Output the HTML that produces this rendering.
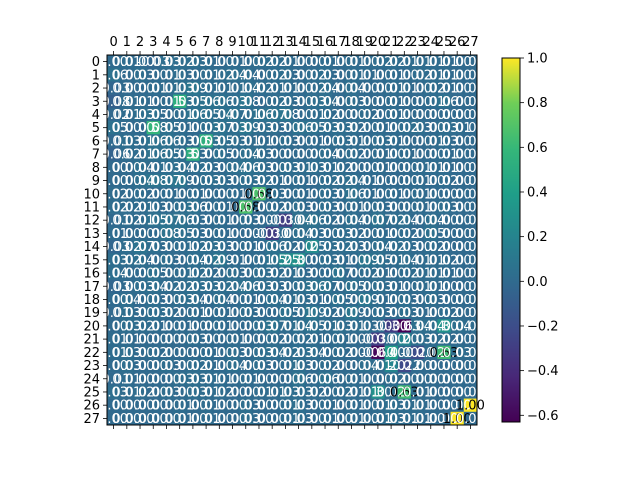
<!DOCTYPE html>
<html><head><meta charset="utf-8">
<style>
html,body{margin:0;padding:0;background:#fff;}
svg{display:block;font-family:"DejaVu Sans","Liberation Sans",sans-serif;}
</style></head>
<body>
<svg id="chart" width="640" height="480" viewBox="0 0 640 480" xmlns="http://www.w3.org/2000/svg">
<g id="cells"></g>
<g id="annots"></g>
<rect x="107" y="55" width="370" height="370" fill="none" stroke="#000" stroke-width="1"/>
<g id="xticks"></g>
<g id="yticks"></g>
<defs>
<linearGradient id="vir" x1="0" y1="1" x2="0" y2="0">
<stop offset="0" stop-color="#440154"/><stop offset="0.125" stop-color="#482878"/><stop offset="0.25" stop-color="#3e4a89"/><stop offset="0.375" stop-color="#31688e"/><stop offset="0.5" stop-color="#26828e"/><stop offset="0.625" stop-color="#1f9e89"/><stop offset="0.75" stop-color="#35b779"/><stop offset="0.875" stop-color="#6ece58"/><stop offset="1" stop-color="#fde725"/>
</linearGradient>
</defs>
<rect x="502" y="58" width="18" height="364" fill="url(#vir)" stroke="#000" stroke-width="1"/>
<g id="cbticks"></g>
</svg>
<script>
const labels = Array.from({length:28},(_,i)=>String(i));
const cbTicks = [1.0,0.8,0.6,0.4,0.2,0.0,-0.2,-0.4,-0.6];
const vmin = -0.63, vmax = 1.0;
const matrix = [
[0.00,0.01,0.00,-0.03,0.03,0.02,0.03,0.01,0.00,0.01,0.00,0.02,0.02,0.01,0.00,0.00,0.01,0.00,0.01,0.00,0.02,0.02,0.01,0.01,0.01,0.01,0.00,0.00],
[0.06,0.00,0.03,0.00,0.01,0.03,0.00,0.01,0.02,0.04,0.04,0.00,0.02,0.03,0.00,0.02,0.03,0.00,0.01,0.01,0.00,0.01,0.00,0.02,0.01,0.01,0.00,0.00],
[-0.03,0.00,0.00,0.01,0.01,0.03,0.09,0.01,0.01,0.01,0.04,0.02,0.01,0.01,0.00,0.02,0.04,0.00,0.04,0.00,0.00,0.01,0.01,0.00,0.02,0.01,0.00,0.00],
[-0.08,0.01,0.01,0.00,0.01,0.53,0.05,0.06,0.06,0.03,0.08,0.00,0.02,0.03,0.00,0.03,0.04,0.00,0.03,0.00,0.00,0.01,0.00,0.00,0.01,0.06,0.00,0.00],
[-0.02,0.01,0.03,0.05,0.00,0.01,0.06,0.05,0.04,0.07,0.01,0.06,0.07,0.08,0.00,0.01,0.02,0.00,0.00,0.02,0.00,0.01,0.00,0.00,0.00,0.00,0.00,0.00],
[0.05,0.00,0.00,0.58,0.05,0.01,0.00,0.03,0.07,0.03,0.09,0.03,0.03,0.00,0.06,0.05,0.03,0.03,0.02,0.00,0.01,0.00,0.02,0.03,0.00,0.03,0.01,0.00],
[-0.01,0.03,0.01,0.06,0.06,0.03,0.00,0.53,0.05,0.03,0.01,0.01,0.00,0.03,0.00,0.01,0.00,0.03,0.01,0.00,0.03,0.01,0.00,0.00,0.01,0.03,0.00,0.00],
[-0.06,0.02,0.01,0.06,0.05,0.03,0.53,0.00,0.05,0.00,0.04,0.03,0.00,0.00,0.00,0.00,0.04,0.00,0.02,0.00,0.01,0.00,0.01,0.00,0.00,0.01,0.00,0.00],
[0.00,0.00,0.04,0.01,0.03,0.04,0.02,0.03,0.00,0.04,0.06,0.03,0.00,0.03,0.01,0.03,0.01,0.02,0.00,0.00,0.01,0.00,0.00,0.01,0.01,0.01,0.00,0.00],
[0.00,0.00,0.04,0.08,0.07,0.09,0.00,0.03,0.03,0.00,0.03,0.02,0.01,0.00,0.01,0.00,0.02,0.02,0.04,0.01,0.00,0.00,0.00,0.01,0.00,0.02,0.00,0.00],
[0.02,0.00,0.02,0.00,0.01,0.00,0.01,0.00,0.00,0.01,0.00,0.68,0.03,0.00,0.01,0.00,0.03,0.01,0.06,0.01,0.00,0.01,0.00,0.01,0.00,0.00,0.00,0.00],
[0.02,0.02,0.01,0.03,0.00,0.03,0.06,0.00,0.01,0.00,0.68,0.00,0.02,0.00,0.03,0.00,0.03,0.00,0.01,0.00,0.03,0.00,0.00,0.01,0.00,0.03,0.00,0.00],
[-0.01,0.02,0.01,0.05,0.07,0.06,0.03,0.00,0.01,0.00,0.03,0.00,0.00,-0.30,0.04,0.06,0.02,0.00,0.04,0.00,0.07,0.02,0.04,0.00,0.04,0.00,0.00,0.00],
[0.01,0.00,0.00,0.00,0.08,0.05,0.03,0.00,0.01,0.00,0.00,0.00,-0.30,0.00,0.04,0.03,0.00,0.03,0.02,0.00,0.01,0.00,0.02,0.00,0.05,0.00,0.00,0.00],
[-0.03,0.02,0.07,0.03,0.00,0.01,0.02,0.03,0.03,0.00,0.01,0.00,0.06,0.02,0.00,0.25,0.03,0.02,0.03,0.00,0.04,0.02,0.03,0.00,0.02,0.00,0.00,0.00],
[0.03,0.02,0.04,0.00,0.03,0.00,0.04,0.02,0.09,0.01,0.00,0.01,0.05,0.25,0.30,0.00,0.03,0.01,0.00,0.09,0.05,0.01,0.04,0.01,0.01,0.02,0.00,0.00],
[0.04,0.00,0.00,0.05,0.00,0.01,0.02,0.02,0.00,0.03,0.00,0.03,0.02,0.01,0.03,0.00,0.00,0.07,0.00,0.02,0.01,0.00,0.02,0.01,0.01,0.01,0.00,0.00],
[-0.03,0.00,0.03,0.04,0.02,0.02,0.03,0.03,0.02,0.04,0.06,0.03,0.03,0.00,0.03,0.06,0.07,0.00,0.05,0.00,0.03,0.01,0.00,0.01,0.01,0.00,0.00,0.00],
[0.00,0.04,0.00,0.03,0.00,0.03,0.04,0.00,0.04,0.00,0.01,0.00,0.04,0.01,0.03,0.01,0.00,0.05,0.00,0.09,0.01,0.00,0.03,0.00,0.03,0.00,0.00,0.00],
[-0.01,0.03,0.00,0.03,0.02,0.00,0.01,0.00,0.01,0.00,0.03,0.00,0.00,0.05,0.01,0.09,0.02,0.00,0.09,0.00,0.03,0.00,0.03,0.01,0.00,0.02,0.00,0.00],
[0.00,0.03,0.02,0.01,0.00,0.01,0.00,0.00,0.01,0.00,0.00,0.03,0.07,0.01,0.04,0.05,0.01,0.03,0.01,0.03,0.00,-0.30,-0.63,0.04,0.04,0.30,0.04,0.01],
[0.01,0.01,0.00,0.00,0.00,0.00,0.03,0.00,0.00,0.01,0.00,0.00,0.02,0.00,0.02,0.01,0.00,0.01,0.00,0.00,-0.30,0.00,0.20,0.03,0.02,0.02,0.00,0.00],
[0.01,0.03,0.00,0.02,0.00,0.00,0.00,0.01,0.00,0.03,0.00,0.03,0.04,0.02,0.03,0.04,0.00,0.02,0.00,0.00,-0.60,0.40,0.00,-0.20,0.02,0.63,0.03,0.01],
[0.00,0.03,0.00,0.00,0.03,0.00,0.02,0.01,0.00,0.04,0.00,0.03,0.00,0.01,0.03,0.00,0.02,0.00,0.00,0.04,0.01,0.20,-0.22,0.00,0.00,0.00,0.00,0.00],
[-0.01,0.01,0.00,0.00,0.00,0.03,0.03,0.01,0.01,0.00,0.01,0.00,0.00,0.00,0.06,0.00,0.06,0.00,0.01,0.00,0.00,0.02,0.00,0.00,0.00,0.00,0.00,0.00],
[0.03,0.01,0.02,0.00,0.03,0.00,0.03,0.01,0.02,0.00,0.00,0.01,0.01,0.03,0.03,0.02,0.00,0.02,0.01,0.01,0.30,0.02,0.63,0.01,0.00,0.00,0.00,0.00],
[0.00,0.00,0.00,0.00,0.00,0.01,0.00,0.01,0.00,0.00,0.03,0.00,0.00,0.01,0.03,0.00,0.01,0.00,0.01,0.00,0.01,0.03,0.01,0.01,0.00,0.00,0.00,1.00],
[0.00,0.00,0.00,0.00,0.00,0.01,0.00,0.01,0.00,0.00,0.03,0.00,0.00,0.01,0.03,0.00,0.01,0.00,0.01,0.00,0.01,0.03,0.01,0.01,0.00,0.00,1.00,0.00]
];
const X0=107, Y0=55, SIZE=370, N=labels.length, CS=SIZE/N;
const NS='http://www.w3.org/2000/svg';
const stops=[[68,1,84],[72,40,120],[62,74,137],[49,104,142],[38,130,142],[31,158,137],[53,183,121],[110,206,88],[253,231,37]];
function viridis(t){t=Math.max(0,Math.min(1,t));const p=t*(stops.length-1);const i=Math.min(stops.length-2,Math.floor(p));const f=p-i;const a=stops[i],b=stops[i+1];return 'rgb('+a.map((v,k)=>Math.round(v+(b[k]-v)*f)).join(',')+')';}
function norm(v){return (v-vmin)/(vmax-vmin);}
function xPos(j){return X0+j*CS;}
function yPos(i){return Y0+i*CS;}
function cbY(v){return 58+(vmax-v)/(vmax-vmin)*364;}
function mk(tag,attrs,parent){const e=document.createElementNS(NS,tag);for(const k in attrs)e.setAttribute(k,attrs[k]);parent.appendChild(e);return e;}
const cells=document.getElementById('cells'), annots=document.getElementById('annots');
for(let i=0;i<N;i++){for(let j=0;j<N;j++){
  const v=matrix[i][j];
  const r=mk('rect',{x:xPos(j),y:yPos(i),width:CS+0.3,height:CS+0.3,fill:viridis(norm(v))},cells);
  
  
}}
for(let i=0;i<N;i++){for(let j=0;j<N;j++){
  const v=matrix[i][j];
  const t=mk('text',{x:xPos(j)+CS/2,y:yPos(i)+CS/2+4.5,'text-anchor':'middle','font-size':'13',fill:norm(v)>0.75?'#000':'#fff'},annots);
  t.textContent=v.toFixed(2);
  
  
}}
const xt=document.getElementById('xticks'), yt=document.getElementById('yticks');
labels.forEach((lab,j)=>{
  const cx=xPos(j)+CS/2;
  mk('line',{x1:cx,y1:55,x2:cx,y2:51,stroke:'#000','stroke-width':0.8},xt);
  mk('line',{x1:cx,y1:425,x2:cx,y2:429,stroke:'#000','stroke-width':0.8},xt);
  const t=mk('text',{x:cx,y:46,'text-anchor':'middle','font-size':'13',fill:'#000'},xt);
  t.textContent=lab;
  
  
});
labels.forEach((lab,i)=>{
  const cy=yPos(i)+CS/2;
  mk('line',{x1:107,y1:cy,x2:103,y2:cy,stroke:'#000','stroke-width':0.8},yt);
  const t=mk('text',{x:100,y:cy+4.5,'text-anchor':'end','font-size':'13',fill:'#000'},yt);
  t.textContent=lab;
  
  
});
const cb=document.getElementById('cbticks');
cbTicks.forEach(v=>{
  const y=cbY(v);
  mk('line',{x1:520,y1:y,x2:524,y2:y,stroke:'#000','stroke-width':0.8},cb);
  const t=mk('text',{x:527,y:y+4.5,'font-size':'13',fill:'#000'},cb);
  t.textContent=(v<0?'\u2212':'')+Math.abs(v).toFixed(1);
  
  
});
</script>
</body></html>
